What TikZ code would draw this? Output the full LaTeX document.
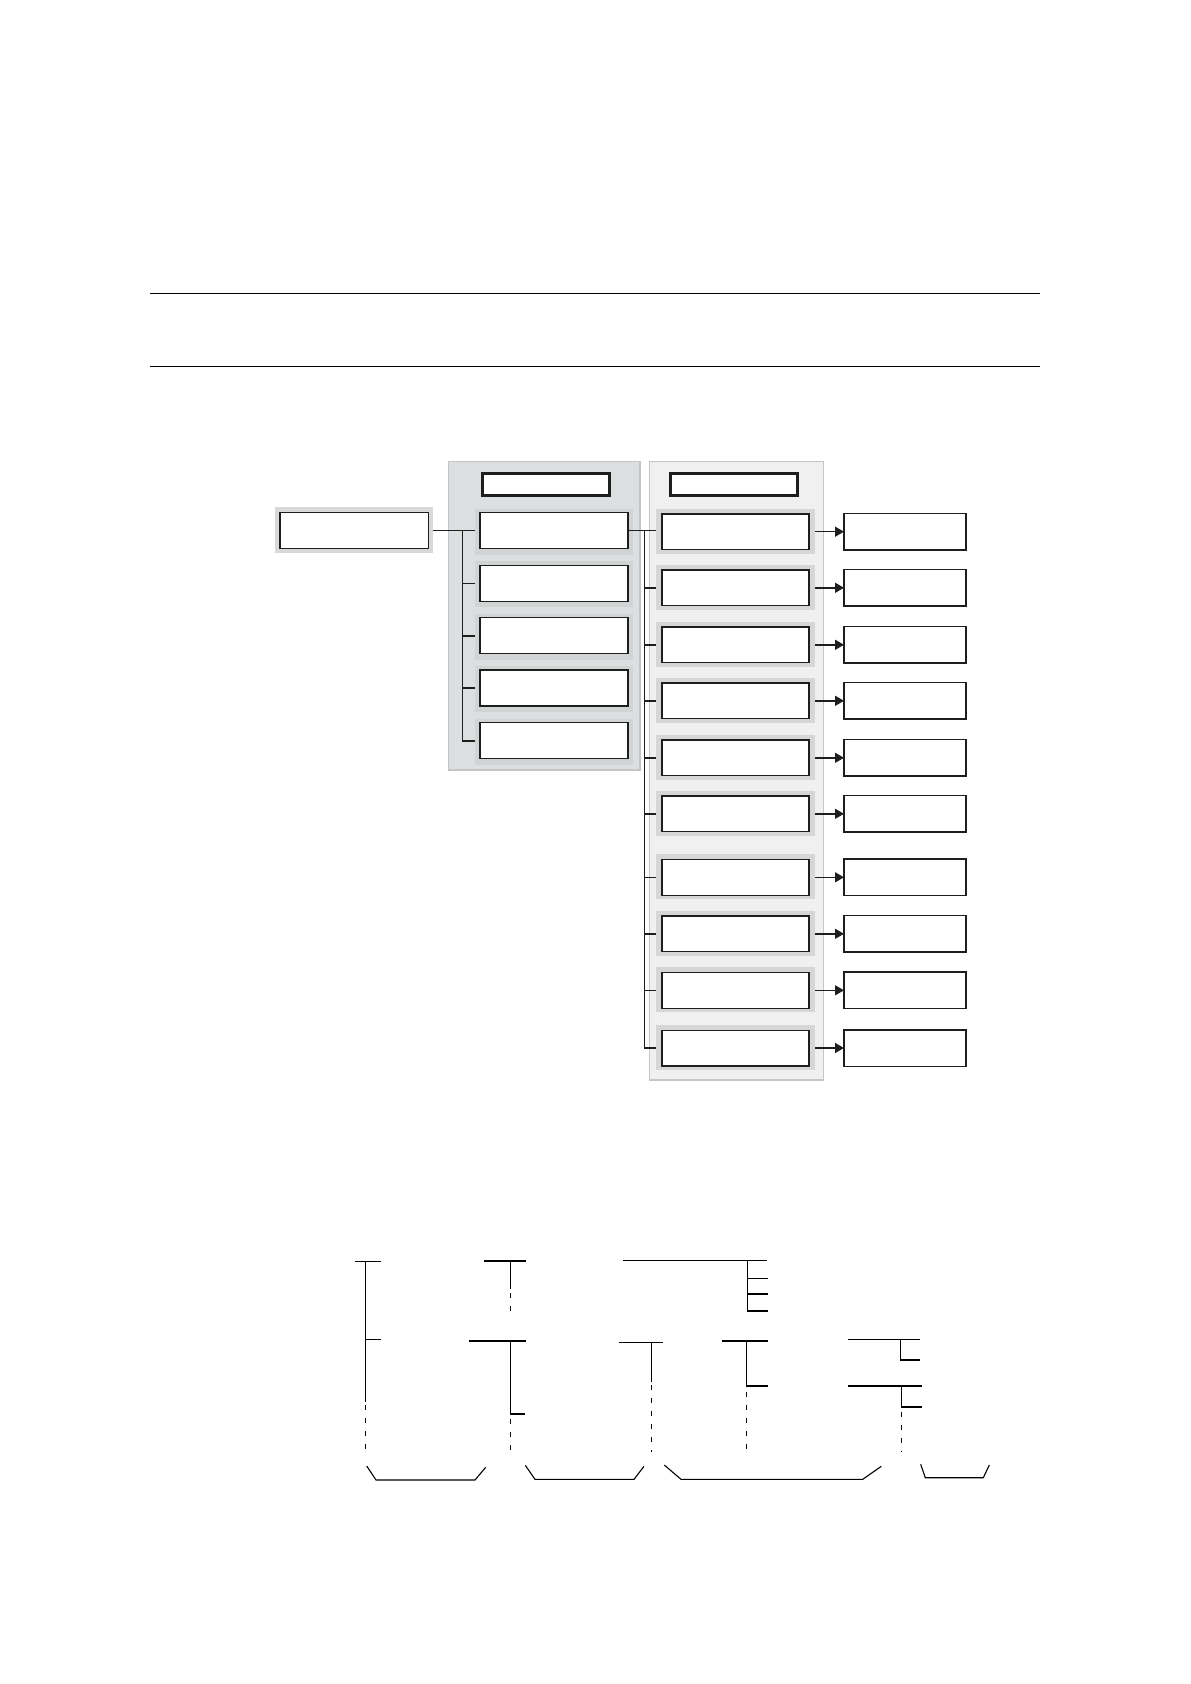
\documentclass[tikz,border=0pt]{standalone}
\usetikzlibrary{arrows.meta}
\definecolor{panelA}{HTML}{DCDFE0}
\definecolor{panelAline}{HTML}{C2C4C5}
\definecolor{panelB}{HTML}{F0F0F0}
\definecolor{panelBline}{HTML}{C6C6C6}
\definecolor{frameA}{HTML}{D1D4D5}
\definecolor{frameB}{HTML}{D6D6D6}
\definecolor{frameL}{HTML}{D9D9D9}
\definecolor{ink}{HTML}{1E1E1E}
\begin{document}
\begin{tikzpicture}[x=0.5pt,y=-0.5pt,
  every node/.style={inner sep=0pt,outer sep=0pt},
  frameA/.style={fill=frameA,draw=none,minimum width=79pt,minimum height=23pt},
  frameB/.style={fill=frameB,draw=none,minimum width=79.5pt,minimum height=22.5pt},
  pbox/.style={draw=ink,fill=white,line width=0.65pt,minimum width=74pt,minimum height=18pt},
  qbox/.style={draw=ink,fill=white,line width=0.65pt,minimum width=73.5pt,minimum height=17.85pt},
  rbox/.style={draw=ink,fill=white,line width=0.75pt,minimum width=61pt,minimum height=18.25pt},
  hdr/.style={draw=ink,fill=white,line width=1.5pt,minimum width=63.8pt,minimum height=10.85pt},
  conn/.style={draw=ink,line width=0.7pt},
  arr/.style={draw=ink,line width=0.7pt,-{Triangle[length=4.5pt,width=5pt]}},
  rule/.style={draw=black,line width=0.65pt},
  tree/.style={draw=black,line width=0.55pt},
  dots/.style={draw=black,line width=0.55pt,dash pattern=on 2.5pt off 4pt}
]
\useasboundingbox (0,0) rectangle (1190,1684);
% horizontal rules
\draw[rule] (150,293.3) -- (1040,293.3);
\draw[rule] (150,366.7) -- (1040,366.7);
% panels
\draw[fill=panelA,draw=panelAline,line width=0.6pt] (448.3,461.3) rectangle (640,770);
\draw[fill=panelB,draw=panelBline,line width=0.6pt] (649.3,461.3) rectangle (823.3,1080);
% headers
\node[hdr] (h1) at (546,484.3) {};
\node[hdr] (h2) at (733.8,484.3) {};
% left box
\node[fill=frameL,minimum width=78.85pt,minimum height=23.3pt] (lbf) at (353.85,530) {};
\node[pbox,minimum width=74.2pt] (lb) at (354.2,530.7) {};
% panel 1 boxes
\foreach \i/\y in {1/530.7,2/583.2,3/635.8,4/688,5/740.8}{
  \node[frameA] (pf\i) at (554,\y+1) {};
  \node[pbox] (p\i) at (554,\y) {};
}
% panel 2 boxes and right boxes
\foreach \i/\y in {1/531.7,2/587.8,3/644.8,4/700.8,5/757.8,6/813.8,7/877.3,8/933.8,9/990.3,10/1048}{
  \node[frameB] (qf\i) at (735.5,\y-0.4) {};
  \node[qbox] (q\i) at (735.5,\y) {};
  \node[rbox] (r\i) at (905,\y) {};
}
% connectors panel 1
\draw[conn] (lbf.east |- p1) -- (pf1.west |- p1);
\coordinate (v1) at (462.7,530.7);
\draw[conn] (v1) |- (pf5.west |- p5);
\foreach \i in {2,3,4}{\draw[conn] (v1 |- p\i) -- (pf\i.west |- p\i);}
% connectors panel 2
\draw[conn] (p1.east) -- (qf1.west |- p1);
\coordinate (v2) at (644.3,530.7);
\draw[conn] (v2) |- (qf10.west |- q10);
\foreach \i in {2,...,9}{\draw[conn] (v2 |- q\i) -- (qf\i.west |- q\i);}
% arrows
\foreach \i in {1,...,10}{\draw[arr] (qf\i.east |- q\i) -- (r\i.west);}
% bottom tree notation
\draw[tree] (355,1261.3) -- (380.7,1261.3);
\draw[tree] (365.3,1261.3) -- (365.3,1401.7);
\draw[dots] (365.3,1405) -- (365.3,1451.7);
\draw[tree] (365.3,1339.3) -- (380.7,1339.3);
\draw[tree] (484,1261) -- (525.7,1261);
\draw[tree] (510.3,1261) -- (510.3,1289.3);
\draw[dots] (510.3,1293) -- (510.3,1318);
\draw[tree] (469,1341) -- (525.7,1341);
\draw[tree] (510.3,1341) -- (510.3,1414) -- (525,1414);
\draw[dots] (510.3,1419) -- (510.3,1452);
\draw[tree] (619,1342.3) -- (662.7,1342.3);
\draw[tree] (651.3,1342.3) -- (651.3,1381.7);
\draw[dots] (651.3,1385) -- (651.3,1451.7);
\draw[tree] (623,1260.3) -- (767,1260.3);
\draw[tree] (747.3,1260.3) -- (747.3,1311) -- (767.7,1311);
\draw[tree] (747.3,1278.3) -- (767.7,1278.3);
\draw[tree] (747.3,1294) -- (767.7,1294);
\draw[tree] (722,1341) -- (768.3,1341);
\draw[tree] (746.5,1341) -- (746.5,1386) -- (768.3,1386);
\draw[dots] (746.8,1391.7) -- (746.8,1451.7);
\draw[tree] (848,1339.3) -- (920,1339.3);
\draw[tree] (900.7,1339.3) -- (900.7,1360) -- (920,1360);
\draw[tree] (848,1386) -- (922,1386);
\draw[tree] (901.7,1386) -- (901.7,1407) -- (922,1407);
\draw[dots] (901.7,1411.7) -- (901.7,1451.7);
% braces
\draw[tree] (366.7,1466) -- (376,1480) -- (475,1480) -- (485.7,1467.3);
\draw[tree] (525.3,1465.3) -- (535,1479.3) -- (634,1479.3) -- (644,1466.3);
\draw[tree] (664.3,1465) -- (681,1479.3) -- (862.7,1479.3) -- (881.3,1466.3);
\draw[tree] (920.7,1464.3) -- (925.3,1477.7) -- (983.3,1477.7) -- (989.3,1465);
\end{tikzpicture}
\end{document}
